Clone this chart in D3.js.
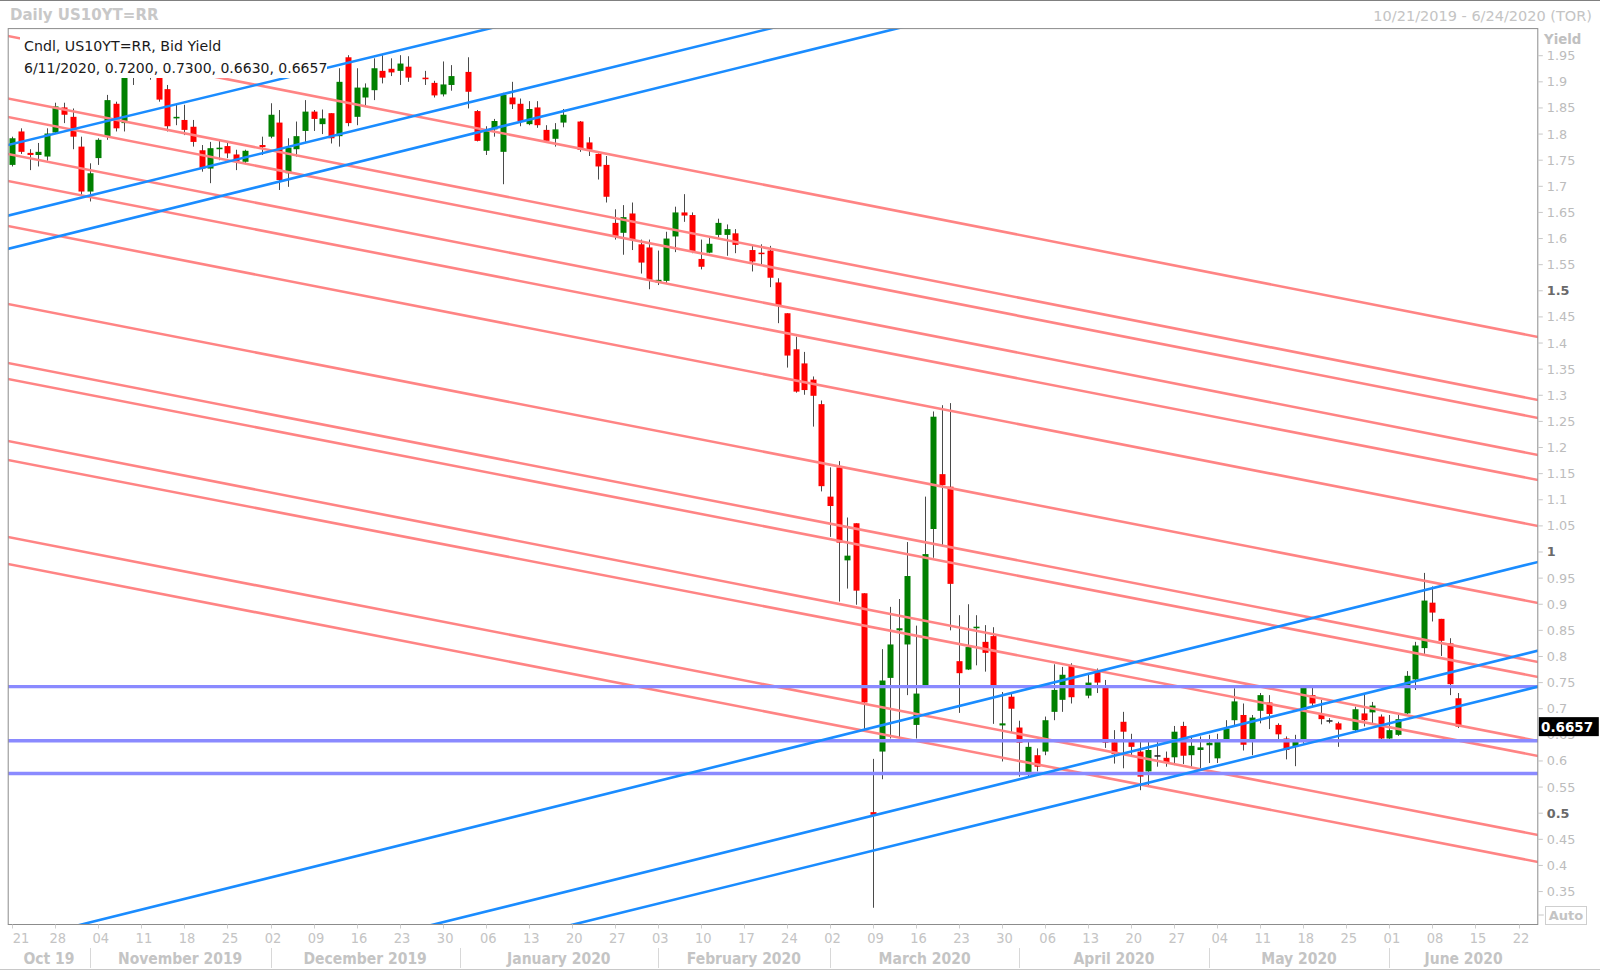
<!DOCTYPE html>
<html><head><meta charset="utf-8">
<script src="https://cdn.jsdelivr.net/npm/d3@7/dist/d3.min.js"></script>
<style>
html,body{margin:0;padding:0;background:#fff;}
svg{display:block;}
text{font-family:"DejaVu Sans",Verdana,sans-serif;}
.cond{font-family:"DejaVu Sans Condensed","DejaVu Sans",sans-serif;font-stretch:condensed;}
</style></head><body>
<svg id="chart" width="1600" height="972"></svg>
<script>
// ---- DATA (one slot per weekday starting Mon 21 Oct 2019; null = holiday) ----
const firstSlotDate = "2019-10-21";
const open = [1.741,1.805,1.764,1.760,1.757,1.803,1.851,1.833,1.776,1.690,
1.754,1.795,1.858,1.821,1.920,null,1.930,1.915,1.886,1.830,
1.827,1.814,1.769,1.734,1.771,1.777,1.761,1.747,null,1.779,
1.795,1.822,1.725,1.771,1.806,1.843,1.819,1.840,1.796,1.947,
1.833,1.870,1.884,1.921,1.925,1.921,1.929,null,1.908,1.898,
1.876,1.894,null,1.919,1.844,1.768,1.809,1.766,1.870,1.858,
1.819,1.851,1.808,1.791,1.822,null,1.824,1.784,1.762,1.741,
1.630,1.611,1.648,1.589,1.583,1.516,1.519,1.604,1.650,1.645,
1.561,1.573,1.607,1.607,1.610,null,1.578,1.573,1.577,1.516,
1.457,1.388,1.361,1.330,1.283,1.106,1.162,0.984,1.055,0.921,
0.502,0.618,0.759,0.850,0.823,0.669,0.745,1.044,1.149,1.125,
0.791,0.775,0.854,0.828,0.839,0.668,0.723,0.664,0.577,0.611,
0.618,0.694,0.717,0.783,null,0.725,0.771,0.742,0.636,0.675,
0.637,0.618,0.580,0.611,0.606,0.607,0.667,0.611,0.621,0.630,
0.605,0.641,0.678,0.688,0.641,0.696,0.712,0.669,0.643,0.627,
0.640,0.726,0.689,0.678,0.672,null,0.659,0.691,0.693,0.685,
0.643,0.650,0.691,0.756,0.816,0.903,0.872,0.825,0.720];
const high = [1.795,1.811,1.771,1.783,1.811,1.860,1.860,1.849,1.795,1.744,
1.792,1.875,1.862,1.945,1.970,null,1.950,1.930,1.894,1.856,
1.856,1.827,1.779,1.785,1.789,1.785,1.770,1.770,null,1.795,
1.859,1.846,1.792,1.824,1.865,1.846,1.847,1.840,1.926,1.951,
1.926,1.897,1.945,1.951,1.945,1.951,1.949,null,1.921,1.902,
1.939,1.932,null,1.947,1.846,1.815,1.829,1.879,1.900,1.868,
1.863,1.863,1.817,1.821,1.848,null,1.825,1.794,1.763,1.758,
1.656,1.664,1.669,1.598,1.598,1.577,1.613,1.661,1.685,1.650,
1.598,1.601,1.638,1.627,1.618,null,1.586,1.589,1.586,1.524,
1.457,1.412,1.383,1.336,1.290,1.162,1.174,1.066,1.055,0.921,
0.604,0.814,0.895,0.910,1.019,0.859,1.106,1.269,1.281,1.285,
0.879,0.900,0.879,0.860,0.856,0.732,0.731,0.677,0.640,0.624,
0.685,0.785,0.780,0.787,null,0.768,0.777,0.755,0.659,0.694,
0.652,0.640,0.637,0.637,0.618,0.667,0.675,0.648,0.647,0.650,
0.652,0.678,0.739,0.710,0.688,0.730,0.726,0.672,0.647,0.650,
0.745,0.740,0.717,0.682,0.675,null,0.704,0.729,0.713,0.689,
0.688,0.688,0.772,0.828,0.960,0.934,0.872,0.835,0.730];
const low = [1.738,1.762,1.731,1.738,1.749,1.801,1.821,1.771,1.683,1.671,
1.741,1.789,1.805,1.805,1.894,null,1.904,1.862,1.805,1.817,
1.798,1.776,1.728,1.706,1.750,1.754,1.731,1.744,null,1.760,
1.792,1.693,1.699,1.757,1.785,1.806,1.800,1.782,1.776,1.815,
1.817,1.854,1.865,1.897,1.911,1.894,1.900,null,1.894,1.870,
1.872,1.883,null,1.849,1.786,1.760,1.795,1.704,1.848,1.815,
1.817,1.812,1.787,1.776,1.813,null,1.766,1.758,1.713,1.669,
1.598,1.569,1.578,1.533,1.503,1.511,1.514,1.574,1.632,1.572,
1.541,1.572,1.602,1.567,1.572,null,1.537,1.551,1.507,1.438,
1.353,1.305,1.301,1.240,1.116,1.029,0.905,0.930,0.899,0.659,
0.319,0.565,0.643,0.646,0.726,0.643,0.740,0.989,1.012,0.850,
0.692,0.774,0.783,0.771,0.671,0.599,0.655,0.570,0.570,0.580,
0.611,0.678,0.694,0.710,null,0.720,0.730,0.625,0.595,0.586,
0.610,0.544,0.551,0.589,0.589,0.592,0.594,0.589,0.586,0.596,
0.596,0.640,0.666,0.620,0.611,0.672,0.661,0.637,0.603,0.590,
0.633,0.704,0.670,0.672,0.627,null,0.656,0.666,0.672,0.640,
0.640,0.648,0.690,0.736,0.805,0.867,0.801,0.726,0.663];
const close = [1.792,1.766,1.760,1.766,1.801,1.853,1.837,1.795,1.690,1.725,
1.789,1.865,1.811,1.925,1.940,null,1.915,1.866,1.815,1.833,
1.808,1.785,1.734,1.773,1.774,1.763,1.747,1.768,null,1.775,
1.837,1.712,1.774,1.796,1.843,1.829,1.830,1.792,1.900,1.821,
1.889,1.889,1.926,1.908,1.918,1.935,1.908,null,1.905,1.874,
1.895,1.911,null,1.881,1.787,1.809,1.825,1.875,1.857,1.825,
1.848,1.817,1.787,1.809,1.837,null,1.770,1.770,1.738,1.680,
1.605,1.641,1.597,1.554,1.521,1.521,1.600,1.650,1.644,1.575,
1.546,1.590,1.630,1.618,1.588,null,1.556,1.571,1.525,1.471,
1.376,1.307,1.310,1.299,1.126,1.088,1.018,0.993,0.926,0.712,
0.497,0.754,0.823,0.854,0.954,0.729,0.996,1.259,1.128,0.939,
0.768,0.818,0.857,0.807,0.745,0.672,0.700,0.635,0.627,0.589,
0.678,0.736,0.765,0.722,null,0.750,0.750,0.635,0.613,0.656,
0.627,0.570,0.621,0.611,0.597,0.656,0.610,0.629,0.626,0.635,
0.637,0.662,0.714,0.631,0.683,0.726,0.690,0.651,0.621,0.637,
0.740,0.710,0.680,0.678,0.660,null,0.699,0.678,0.706,0.643,
0.659,0.680,0.763,0.821,0.907,0.884,0.830,0.747,0.6657];

const yTickValues = [0.35,0.4,0.45,0.5,0.55,0.6,0.65,0.7,0.75,0.8,0.85,0.9,0.95,1,1.05,1.1,1.15,1.2,1.25,1.3,1.35,1.4,1.45,1.5,1.55,1.6,1.65,1.7,1.75,1.8,1.85,1.9,1.95];
const yTickLabels = ["0.35","0.4","0.45","0.5","0.55","0.6","0.65","0.7","0.75","0.8","0.85","0.9","0.95","1","1.05","1.1","1.15","1.2","1.25","1.3","1.35","1.4","1.45","1.5","1.55","1.6","1.65","1.7","1.75","1.8","1.85","1.9","1.95"];
const yBoldLabels = ["0.5","1","1.5"];
const dayTickSlots = [0,5,10,15,20,25,30,35,40,45,50,55,60,65,70,75,80,85,90,95,100,105,110,115,120,125,130,135,140,145,150,155,160,165,170,175];
const dayTickLabels = ["21","28","04","11","18","25","02","09","16","23","30","06","13","20","27","03","10","17","24","02","09","16","23","30","06","13","20","27","04","11","18","25","01","08","15","22"];
const monthStartSlots = [9,30,52,75,95,117,139,160];
const monthLabels = ["Oct 19","November 2019","December 2019","January 2020","February 2020","March 2020","April 2020","May 2020","June 2020"];

// drawn lines: [slot1, yield1, slot2, yield2]
const pinkLines = [
 [-0.5,1.9877,177.26,1.4116],[-0.5,1.8681,177.26,1.2910],[-0.5,1.8327,177.26,1.2565],
 [-0.5,1.7619,177.26,1.1857],[-0.5,1.7102,177.26,1.1378],[-0.5,1.6241,177.26,1.0498],
 [-0.5,1.4747,177.26,0.9024],[-0.5,1.3618,177.26,0.7894],[-0.5,1.3312,177.26,0.7607],
 [-0.5,1.2125,177.26,0.6382],[-0.5,1.1761,177.26,0.6095],[-0.5,1.0287,177.26,0.4583],
 [-0.5,0.9770,177.26,0.4066]];
const blueLines = [
 [-0.5,1.7791,42.72,1.9514],[-0.5,1.6438,82.6,1.9801],[42.72,1.7567,89.2,1.9466],
 [8.05,0.2870,177.26,0.9809],[48.96,0.2870,177.26,0.8111],[65.2,0.2870,177.26,0.7422]];
const levelLines = [0.7422,0.6386,0.5760];
const legendLine1 = "Cndl, US10YT=RR, Bid Yield";
const legendLine2 = "6/11/2020, 0.7200, 0.7300, 0.6630, 0.6657";
const lastValue = 0.6657;
const titleText = "Daily US10YT=RR";
const rangeText = "10/21/2019 - 6/24/2020 (TOR)";

// ---- LAYOUT ----
const W=1600,H=972;
const P={l:8.2,r:1537.8,t:28.6,b:924.5};
const xDom=[-0.4764,177.24];
const x=d3.scaleLinear().domain(xDom).range([P.l,P.r]);
const y=d3.scaleLinear().domain([0.28694,2.0019]).range([P.b,P.t]);
const svg=d3.select("#chart");

svg.append("rect").attr("x",0).attr("y",0).attr("width",W).attr("height",H).attr("fill","#fff");
svg.append("defs").append("clipPath").attr("id","plotclip").append("rect")
  .attr("x",P.l).attr("y",P.t).attr("width",P.r-P.l).attr("height",P.b-P.t);

// header
svg.append("text").attr("x",10).attr("y",20).attr("font-size",15).attr("font-weight","bold")
  .attr("fill","#c8c8c8").text(titleText);
svg.append("text").attr("x",1592).attr("y",21).attr("text-anchor","end").attr("font-size",14.5)
  .attr("fill","#c4c4c4").text(rangeText);

const plot=svg.append("g").attr("clip-path","url(#plotclip)");

// candles
const data=open.map((o,i)=>o==null?null:{i,o,h:high[i],l:low[i],c:close[i]}).filter(d=>d);
const bw=6;
const cg=plot.append("g");
cg.selectAll("line.w").data(data).join("line")
  .attr("x1",d=>Math.round(x(d.i))+0.5).attr("x2",d=>Math.round(x(d.i))+0.5)
  .attr("y1",d=>y(d.h)).attr("y2",d=>y(d.l)).attr("stroke","#4a4a4a").attr("stroke-width",1);
cg.selectAll("rect.b").data(data).join("rect")
  .attr("x",d=>Math.round(x(d.i))+0.5-bw/2).attr("width",bw)
  .attr("y",d=>y(Math.max(d.o,d.c)))
  .attr("height",d=>Math.max(1.5,Math.abs(y(d.o)-y(d.c))))
  .attr("fill",d=>d.c>d.o?"#008000":(d.c<d.o?"#ff0000":"#222"));

// lines
function ext(l){const [i1,v1,i2,v2]=l;const s=(v2-v1)/(i2-i1);
  return [[xDom[0]-1,v1+s*(xDom[0]-1-i1)],[xDom[1]+1,v1+s*(xDom[1]+1-i1)]];}
const ln=d3.line().x(d=>x(d[0])).y(d=>y(d[1]));
plot.append("g").selectAll("path").data(pinkLines).join("path")
  .attr("d",d=>ln(ext(d))).attr("fill","none").attr("stroke","#ff8484").attr("stroke-width",2.6);
plot.append("g").selectAll("path").data(levelLines).join("path")
  .attr("d",v=>ln([[xDom[0]-1,v],[xDom[1]+1,v]])).attr("fill","none").attr("stroke","#8a8aff").attr("stroke-width",3.4);
plot.append("g").selectAll("path").data(blueLines).join("path")
  .attr("d",d=>ln(ext(d))).attr("fill","none").attr("stroke","#1a8cff").attr("stroke-width",2.6);

// legend
plot.append("rect").attr("x",20).attr("y",33).attr("width",307).attr("height",45).attr("fill","#fff");
svg.append("text").attr("x",24).attr("y",51).attr("font-size",14.2).attr("fill","#1a1a1a").text(legendLine1);
svg.append("text").attr("x",24).attr("y",73).attr("font-size",14).attr("fill","#1a1a1a").text(legendLine2);

// border
svg.append("rect").attr("x",P.l).attr("y",P.t).attr("width",P.r-P.l).attr("height",P.b-P.t)
  .attr("fill","none").attr("stroke","#8c8c8c").attr("stroke-width",1);

// y axis
const ya=svg.append("g");
ya.selectAll("line").data(yTickValues).join("line")
  .attr("x1",P.r).attr("x2",P.r+5).attr("y1",v=>y(v)).attr("y2",v=>y(v)).attr("stroke","#c8c8c8");
ya.selectAll("text").data(yTickValues).join("text")
  .attr("x",P.r+9).attr("y",v=>y(v)+4.5).attr("font-size",12.8)
  .attr("font-weight",(v,k)=>yBoldLabels.includes(yTickLabels[k])?"bold":"normal")
  .attr("fill",(v,k)=>yBoldLabels.includes(yTickLabels[k])?"#6a6a6a":"#bcbcbc")
  .text((v,k)=>yTickLabels[k]);
svg.append("text").attr("x",1544).attr("y",44).attr("font-size",13.3).attr("font-weight","bold")
  .attr("fill","#c0c0c0").text("Yield");
// last value
const ly=y(lastValue);
svg.append("rect").attr("x",P.r+1).attr("y",ly-9.5).attr("width",60).attr("height",19).attr("fill","#000");
svg.append("text").attr("x",1541).attr("y",ly+5).attr("font-size",13.5).attr("font-weight","bold")
  .attr("fill","#fff").text(lastValue.toFixed(4));
// auto box
svg.append("line").attr("x1",P.r).attr("x2",P.r+6).attr("y1",915).attr("y2",915).attr("stroke","#c8c8c8");
svg.append("rect").attr("x",1545.5).attr("y",906.5).attr("width",41).attr("height",18)
  .attr("fill","#fff").attr("stroke","#cfcfcf");
svg.append("text").attr("x",1566).attr("y",920).attr("text-anchor","middle").attr("font-size",13)
  .attr("font-weight","bold").attr("fill","#c4c4c4").text("Auto");

// x axis
const xa=svg.append("g");
xa.selectAll("line").data(dayTickSlots).join("line")
  .attr("x1",s=>Math.round(x(s))+0.5).attr("x2",s=>Math.round(x(s))+0.5)
  .attr("y1",P.b).attr("y2",P.b+4).attr("stroke","#d0d0d0");
xa.selectAll("text").data(dayTickSlots).join("text").attr("class","cond")
  .attr("x",s=>Math.max(x(s)+2.5,21)).attr("y",943).attr("text-anchor","middle")
  .attr("font-size",14.5).attr("fill","#c4c4c4").text((s,k)=>dayTickLabels[k]);
const bounds=[P.l,...monthStartSlots.map(s=>x(s)),P.r];
svg.append("g").selectAll("line").data(monthStartSlots).join("line")
  .attr("x1",s=>Math.round(x(s))+0.5).attr("x2",s=>Math.round(x(s))+0.5)
  .attr("y1",948).attr("y2",968).attr("stroke","#d8d8d8");
svg.append("g").selectAll("text").data(monthLabels).join("text").attr("class","cond")
  .attr("x",(m,k)=>(bounds[k]+bounds[k+1])/2).attr("y",964).attr("text-anchor","middle")
  .attr("font-size",15.5).attr("font-weight","bold").attr("fill","#c4c4c4").text(m=>m);

// frame
svg.append("line").attr("x1",0).attr("x2",W).attr("y1",0.5).attr("y2",0.5).attr("stroke","#808080");
svg.append("line").attr("x1",0).attr("x2",W).attr("y1",969.5).attr("y2",969.5).attr("stroke","#c8c8c8");
</script>
</body></html>
